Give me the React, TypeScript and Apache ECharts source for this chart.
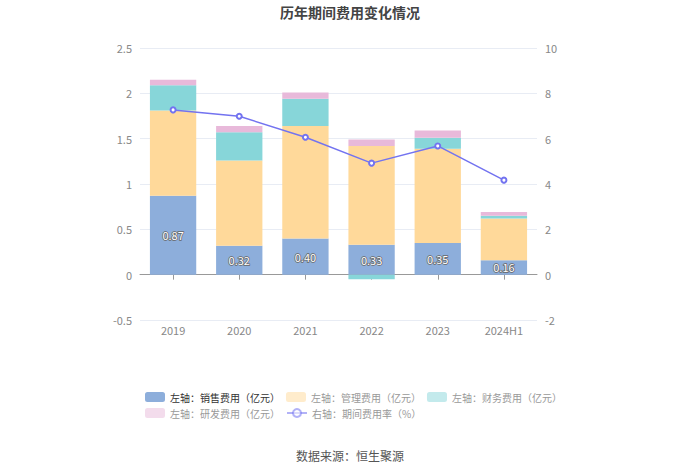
import React, { useEffect, useRef } from "react";
import * as echarts from "echarts";

const categories = ["2019", "2020", "2021", "2022", "2023", "2024H1"];
const salesExp = [0.87, 0.32, 0.4, 0.33, 0.35, 0.16];
const mgmtExp = [0.94, 0.94, 1.24, 1.09, 1.04, 0.46];
const finExp = [0.28, 0.31, 0.3, -0.05, 0.12, 0.03];
const rdExp = [0.06, 0.07, 0.07, 0.07, 0.08, 0.04];
const expRate = [7.27, 6.99, 6.06, 4.92, 5.68, 4.17];

const names = [
  "左轴：销售费用（亿元）",
  "左轴：管理费用（亿元）",
  "左轴：财务费用（亿元）",
  "左轴：研发费用（亿元）",
  "右轴：期间费用率（%）",
];

const colors = ["#8DAEDB", "#FFD99A", "#87D6D9", "#E8B9DA", "#7373F0"];

export default function App() {
  const ref = useRef<HTMLDivElement>(null);
  useEffect(() => {
    document.body.style.margin = "0";
    if (!ref.current) return;
    const chart = echarts.init(ref.current, null, { renderer: "svg" });
    const font = "'Noto Sans CJK SC', 'Noto Sans', sans-serif";
    const barSeries = [salesExp, mgmtExp, finExp, rdExp].map((d, i) => ({
      name: names[i],
      type: "bar",
      stack: "total",
      data: d,
      barWidth: "70%",
      xAxisIndex: 0,
      yAxisIndex: 0,
      itemStyle: { color: colors[i] },
      label:
        i === 0
          ? {
              show: true,
              position: "inside",
              color: "#fff",
              fontSize: 11,
              fontFamily: font,
              textBorderColor: "#666",
              textBorderWidth: 1.5,
              formatter: (p: any) => p.value.toFixed(2),
            }
          : { show: false },
    }));
    chart.setOption({
      animation: false,
      textStyle: { fontFamily: font },
      title: {
        text: "历年期间费用变化情况",
        left: "center",
        top: 0,
        textStyle: { fontSize: 14, fontWeight: "bold", color: "#444", fontFamily: font },
      },
      legend: {
        left: 140,
        top: 387,
        width: 430,
        itemWidth: 20,
        itemHeight: 10,
        itemGap: 6,
        textStyle: { fontSize: 10, color: "#999", fontFamily: font },
        data: names.map((n, i) =>
          i === 0
            ? { name: n, textStyle: { color: "#333" } }
            : i === 4
            ? {
                name: n,
                itemStyle: { opacity: 0.55 },
                lineStyle: { opacity: 0.55 },
              }
            : { name: n, itemStyle: { opacity: 0.5 } }
        ),
      },
      grid: { left: 140, right: 163, top: 48, bottom: 153 },
      xAxis: [
        {
          type: "category",
          data: categories,
          axisLine: { show: true, onZero: true, lineStyle: { color: "#999" } },
          axisTick: { show: true, alignWithLabel: true, length: 5, lineStyle: { color: "#999" } },
          axisLabel: { show: false },
        },
        {
          type: "category",
          data: categories,
          position: "bottom",
          axisLine: { show: false, onZero: false },
          axisTick: { show: false },
          axisLabel: { show: true, color: "#888", fontSize: 11, margin: 4, fontFamily: font },
        },
      ],
      yAxis: [
        {
          type: "value",
          min: -0.5,
          max: 2.5,
          interval: 0.5,
          axisLine: { show: false },
          axisTick: { show: false },
          axisLabel: { color: "#888", fontSize: 11, margin: 8, fontFamily: font },
          splitLine: { lineStyle: { color: "#E8ECF4" } },
        },
        {
          type: "value",
          min: -2,
          max: 10,
          interval: 2,
          position: "right",
          axisLine: { show: false },
          axisTick: { show: false },
          axisLabel: { color: "#888", fontSize: 11, margin: 8, fontFamily: font },
          splitLine: { show: false },
        },
      ],
      series: [
        ...barSeries,
        {
          name: names[4],
          type: "line",
          xAxisIndex: 0,
          yAxisIndex: 1,
          data: expRate,
          symbol: "emptyCircle",
          symbolSize: 5,
          itemStyle: { color: colors[4] },
          lineStyle: { color: colors[4], width: 1.5 },
        },
      ],
      graphic: [
        {
          type: "text",
          left: "center",
          top: 449,
          style: {
            text: "数据来源：恒生聚源",
            fontSize: 12,
            fill: "#555",
            fontFamily: font,
          },
        },
      ],
    });
    return () => chart.dispose();
  }, []);
  return <div ref={ref} style={{ width: 700, height: 473 }} />;
}
